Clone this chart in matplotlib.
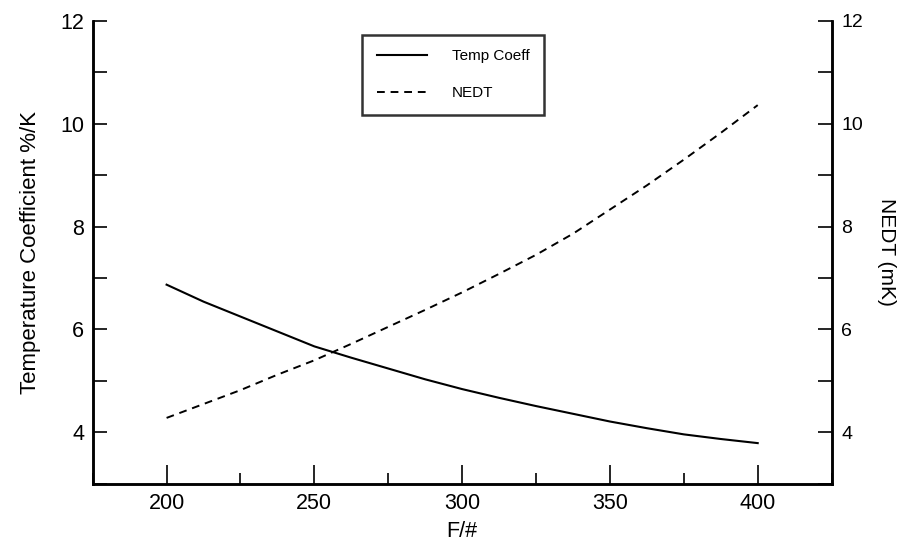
import numpy as np
import matplotlib.pyplot as plt
from matplotlib.ticker import MultipleLocator

plt.rcParams['font.family'] = ['Liberation Sans', 'DejaVu Sans']

# data
f_number = [200, 212.5, 225, 237.5, 250, 262.5, 275, 287.5, 300,
            312.5, 325, 337.5, 350, 362.5, 375, 387.5, 400]
temp_coeff = [6.87, 6.54, 6.25, 5.96, 5.67, 5.45, 5.24, 5.03, 4.84,
              4.67, 4.51, 4.36, 4.21, 4.08, 3.96, 3.87, 3.79]
nedt = [4.28, 4.55, 4.82, 5.12, 5.40, 5.72, 6.05, 6.38, 6.72,
        7.08, 7.45, 7.86, 8.33, 8.80, 9.30, 9.82, 10.36]

fig = plt.figure(figsize=(9, 5.46), dpi=100)
ax = fig.add_axes([0.103, 0.114, 0.821, 0.848])
ax2 = ax.twinx()

l1, = ax.plot(f_number, temp_coeff, color='black', lw=1.5, label='Temp Coeff')
l2, = ax2.plot(f_number, nedt, color='black', lw=1.4, ls=(0, (4, 3)), label='NEDT')

for a in (ax, ax2):
    a.set_xlim(175, 425)
    a.set_ylim(3, 12)
    a.spines['top'].set_visible(False)
    for s in ('left', 'right', 'bottom'):
        a.spines[s].set_linewidth(1.8)

ax.xaxis.set_major_locator(MultipleLocator(50))
ax.xaxis.set_minor_locator(MultipleLocator(25))
ax.yaxis.set_minor_locator(MultipleLocator(1))
ax2.yaxis.set_minor_locator(MultipleLocator(1))
ax.set_yticks([4, 6, 8, 10, 12])
ax2.set_yticks([4, 6, 8, 10, 12])

ax.tick_params(axis='x', which='major', direction='in', length=14, width=1.2, labelsize=15.5, pad=7)
ax.tick_params(axis='x', which='minor', direction='in', length=8, width=1.2)
ax.tick_params(axis='y', which='both', direction='in', length=10, width=1.2, labelsize=15.5, pad=6)
ax2.tick_params(axis='y', which='both', direction='in', length=10, width=1.2, labelsize=14, pad=7)

ax.set_xlabel('F/#', fontsize=15.5, labelpad=5)
ax.set_ylabel('Temperature Coefficient %/K', fontsize=16, labelpad=14)
ax2.set_ylabel('NEDT (mK)', fontsize=15, rotation=270, labelpad=24)

leg = ax.legend(handles=[l1, l2], loc='upper left', bbox_to_anchor=(0.365, 0.97),
                borderaxespad=0, fontsize=11, frameon=True, fancybox=False,
                edgecolor='black', handlelength=3.3, handletextpad=1.6,
                borderpad=0.95, labelspacing=1.5)
leg.get_frame().set_linewidth(1.8)

fig.savefig('out.png', dpi=100)
